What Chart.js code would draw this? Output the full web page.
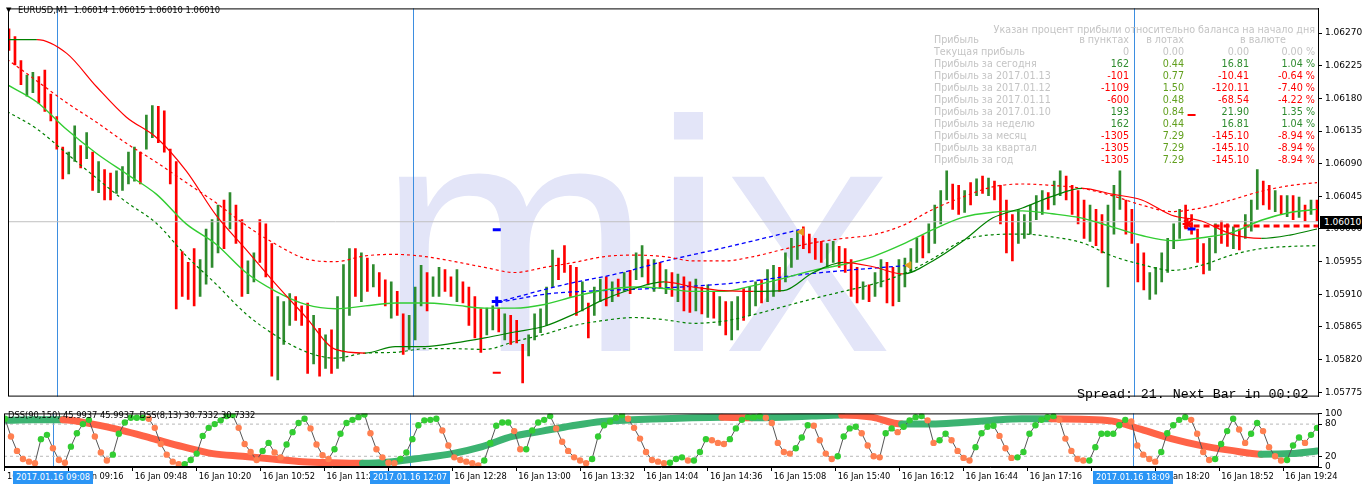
<!DOCTYPE html>
<html lang="ru">
<head>
<meta charset="UTF-8">
<title>EURUSD,M1</title>
<script src="https://cdn.jsdelivr.net/npm/chart.js"></script>
<style>
  html, body { margin: 0; padding: 0; background: #fff; }
  body { width: 1362px; height: 489px; position: relative; overflow: hidden; font-family: 'DejaVu Sans', sans-serif; }
  .watermark { position: absolute; left: 377px; top: 72px; font: 330px/1 'Liberation Sans', Arial, sans-serif; color: #e3e5f8; z-index: 0; white-space: nowrap; }
  #main { position: absolute; left: 0; top: 0; width: 1362px; height: 405px; z-index: 1; }
  #sub { position: absolute; left: 0; top: 405px; width: 1362px; height: 84px; z-index: 1; }
  .ovl { position: absolute; z-index: 2; white-space: nowrap; line-height: 12px; }
  .tri { left: 6px; top: 4px; font-size: 7px; }
  .hdr { left: 18px; top: 4px; font-size: 8.4px; color: #000; }
  .t { font-size: 9.6px; }
  .spread { left: 1077px; top: 388px; font: 13.3px/14px 'Liberation Mono', monospace; color: #000; }
  .dsslbl { left: 8px; top: 409px; font-size: 8.3px; color: #000; }
  .pricebox { left: 1320px; top: 216px; width: 42px; height: 13px; background: #000; color: #fff; font-size: 9px; line-height: 13px; padding-left: 4px; box-sizing: border-box; }
  .tbox { top: 471px; height: 13px; width: 80px; background: #2b95f5; color: #fff; font-size: 8.3px; line-height: 13px; text-align: center; }
</style>
</head>
<body>

<div class="watermark">mix</div>
<div id="main"><canvas id="mainChart"></canvas></div>
<div id="sub"><canvas id="subChart"></canvas></div>

<div class="ovl tri">▼</div>
<div class="ovl hdr">EURUSD,M1&nbsp;&nbsp;1.06014 1.06015 1.06010 1.06010</div>
<div class="ovl spread">Spread: 21. Next Bar in 00:02</div>
<div class="ovl dsslbl">DSS(90,150) 45.9937 45.9937&nbsp;&nbsp;DSS(8,13) 30.7332 30.7332</div>
<div class="ovl pricebox">1.06010</div>

<script>
// ---- price bars, 3 minute steps from 08:44 ----
const firstBar = '08:44';
const barStep = 3;

const highs = [
  1.06276,1.06265,1.06232,1.06212,1.06216,1.06210,1.06219,1.06186,1.06155,1.06113,
  1.06106,1.06142,1.06115,1.06133,1.06106,1.06093,1.06082,1.06077,1.06080,1.06086,
  1.06106,1.06113,1.06106,1.06157,1.06170,1.06169,1.06163,1.06110,1.06093,1.05969,
  1.05954,1.05973,1.05958,1.06000,1.06013,1.06033,1.06040,1.06050,1.06033,1.06013,
  1.05956,1.05967,1.06013,1.06007,1.05980,1.05907,1.05900,1.05911,1.05907,1.05894,
  1.05898,1.05881,1.05863,1.05854,1.05861,1.05907,1.05951,1.05973,1.05973,1.05967,
  1.05960,1.05951,1.05940,1.05930,1.05927,1.05914,1.05883,1.05881,1.05920,1.05950,
  1.05940,1.05934,1.05947,1.05944,1.05934,1.05944,1.05927,1.05920,1.05907,1.05890,
  1.05891,1.05894,1.05891,1.05883,1.05881,1.05874,1.05841,1.05854,1.05883,1.05890,
  1.05920,1.05971,1.05960,1.05977,1.05950,1.05947,1.05927,1.05898,1.05920,1.05931,
  1.05934,1.05927,1.05931,1.05940,1.05943,1.05967,1.05977,1.05958,1.05958,1.05954,
  1.05944,1.05940,1.05938,1.05934,1.05927,1.05931,1.05920,1.05923,1.05914,1.05907,
  1.05900,1.05900,1.05907,1.05918,1.05920,1.05927,1.05930,1.05944,1.05950,1.05947,
  1.05967,1.05987,1.05997,1.06003,1.05993,1.05987,1.05983,1.05980,1.05983,1.05976,
  1.05973,1.05958,1.05947,1.05927,1.05923,1.05940,1.05958,1.05954,1.05947,1.05958,
  1.05960,1.05973,1.05987,1.05991,1.06007,1.06033,1.06053,1.06080,1.06062,1.06060,
  1.06053,1.06064,1.06069,1.06073,1.06070,1.06066,1.06060,1.06040,1.06020,1.06027,
  1.06020,1.06033,1.06046,1.06053,1.06050,1.06066,1.06080,1.06073,1.06060,1.06053,
  1.06040,1.06033,1.06027,1.06020,1.06033,1.06060,1.06080,1.06040,1.06027,1.05980,
  1.05967,1.05940,1.05947,1.05967,1.05987,1.06007,1.06027,1.06033,1.06020,1.06000,
  1.05980,1.05987,1.06007,1.06011,1.06007,1.06003,1.06000,1.06020,1.06040,1.06082,
  1.06066,1.06060,1.06053,1.06046,1.06046,1.06046,1.06044,1.06033,1.06040,1.06040
];
const lows = [
  1.06246,1.06226,1.06199,1.06183,1.06188,1.06173,1.06162,1.06149,1.06110,1.06069,
  1.06076,1.06093,1.06084,1.06097,1.06053,1.06050,1.06040,1.06040,1.06049,1.06053,
  1.06062,1.06066,1.06062,1.06110,1.06126,1.06119,1.06106,1.06062,1.05890,1.05907,
  1.05903,1.05894,1.05907,1.05924,1.05947,1.05967,1.05973,1.06000,1.05980,1.05907,
  1.05911,1.05927,1.05954,1.05934,1.05797,1.05792,1.05841,1.05867,1.05874,1.05867,
  1.05801,1.05814,1.05797,1.05808,1.05801,1.05808,1.05818,1.05881,1.05907,1.05900,
  1.05914,1.05920,1.05907,1.05894,1.05877,1.05881,1.05827,1.05834,1.05847,1.05894,
  1.05887,1.05907,1.05907,1.05914,1.05907,1.05900,1.05898,1.05867,1.05850,1.05830,
  1.05854,1.05861,1.05858,1.05847,1.05841,1.05843,1.05788,1.05825,1.05847,1.05857,
  1.05867,1.05920,1.05930,1.05940,1.05907,1.05881,1.05887,1.05850,1.05881,1.05900,
  1.05894,1.05900,1.05907,1.05914,1.05911,1.05930,1.05934,1.05923,1.05914,1.05918,
  1.05911,1.05907,1.05900,1.05887,1.05885,1.05887,1.05883,1.05878,1.05877,1.05867,
  1.05854,1.05847,1.05861,1.05874,1.05881,1.05894,1.05898,1.05900,1.05907,1.05914,
  1.05927,1.05947,1.05958,1.05973,1.05967,1.05958,1.05954,1.05947,1.05954,1.05947,
  1.05940,1.05907,1.05898,1.05903,1.05900,1.05907,1.05920,1.05898,1.05894,1.05900,
  1.05920,1.05940,1.05954,1.05960,1.05967,1.05980,1.06007,1.06040,1.06027,1.06020,
  1.06023,1.06033,1.06046,1.06049,1.06046,1.06040,1.06007,1.05967,1.05956,1.05980,
  1.05987,1.05993,1.06013,1.06020,1.06027,1.06033,1.06046,1.06040,1.06020,1.06007,
  1.05987,1.05983,1.05977,1.05967,1.05920,1.05993,1.06027,1.05993,1.05980,1.05927,
  1.05916,1.05903,1.05910,1.05927,1.05940,1.05973,1.05987,1.06000,1.05993,1.05954,
  1.05938,1.05943,1.05967,1.05980,1.05976,1.05973,1.05971,1.05987,1.05997,1.06027,
  1.06033,1.06027,1.06024,1.06020,1.06017,1.06013,1.06016,1.06011,1.06020,1.06011
];
// 1 = bullish bar, 0 = bearish bar
const barUp = [
  0,0,0,1,1,0,0,0,0,0, 1,1,0,1,0,1,0,0,1,1, 1,1,0,1,1,0,0,0,0,0, 0,0,1,1,1,1,0,1,0,0,
  1,1,0,0,0,1,1,1,0,0, 0,1,0,1,0,1,1,1,0,1, 0,1,0,0,1,0,0,1,1,1, 0,1,1,0,0,1,0,0,0,0,
  1,1,0,1,0,0,0,1,1,1, 1,1,0,0,0,0,1,0,1,1, 0,1,0,1,0,1,1,0,1,0, 1,0,1,0,0,1,0,1,0,1,
  0,1,1,0,1,1,0,1,1,0, 1,1,1,0,0,0,0,1,1,0, 0,0,0,1,0,1,1,0,0,1, 1,1,1,0,1,1,1,1,0,0,
  1,0,1,0,1,0,0,0,0,1, 1,1,1,1,0,1,1,0,0,0, 0,1,0,0,1,1,1,0,0,0, 0,1,1,1,1,1,1,0,0,0,
  0,1,1,0,0,1,0,1,1,1, 0,0,1,0,1,0,1,0,1,0
];
// fast DSS(8,13), one value per bar
const fastDss = [
  90,57,30,15,10,7,52,60,35,13, 8,38,63,80,88,57,27,12,23,62,
  83,92,92,92,90,73,43,23,10,5, 5,13,25,58,73,80,87,95,97,73,
  43,28,13,30,45,27,18,42,65,82, 90,72,42,22,15,33,62,82,88,93,
  98,63,33,18,8,7,15,27,52,78, 87,88,90,68,40,18,13,10,7,3,
  12,45,77,83,83,67,33,33,68,83, 88,95,72,47,30,18,12,7,15,57,
  78,85,92,97,90,73,53,28,13,10, 7,8,15,18,12,12,28,52,50,45,
  43,52,72,88,93,93,95,92,82,45, 28,25,35,55,78,77,50,25,15,20,
  57,72,75,63,40,20,18,63,72,65, 75,87,93,95,87,45,50,62,50,30,
  17,12,37,63,75,77,58,35,17,18, 28,62,78,88,93,95,88,53,30,15,
  12,12,37,62,62,62,78,88,85,40, 23,15,10,28,63,78,88,93,88,62,
  28,13,15,43,67,90,70,45,62,82, 67,37,20,12,13,40,55,45,60,73
];

// ---- indicator lines, sampled every 15 minutes ----
const lineTimes = ['08:43','08:58','09:13','09:28','09:43','09:58','10:13','10:28','10:43','10:58',
  '11:13','11:28','11:43','11:58','12:13','12:28','12:43','12:58','13:13','13:28',
  '13:43','13:58','14:13','14:28','14:43','14:58','15:13','15:28','15:43','15:58',
  '16:13','16:28','16:43','16:58','17:13','17:28','17:43','17:58','18:13','18:28',
  '18:43','18:58','19:13','19:28','19:41'];
const trendMa = [1.06261,1.06261,1.06242,1.06196,1.06154,1.06126,1.06080,1.06019,1.05972,1.05924,
  1.05879,1.05834,1.05829,1.05838,1.05838,1.05843,1.05850,1.05858,1.05866,1.05883,
  1.05903,1.05918,1.05927,1.05920,1.05915,1.05914,1.05915,1.05940,1.05954,1.05948,
  1.05938,1.05956,1.05983,1.06015,1.06029,1.06045,1.06056,1.06048,1.06040,1.06019,
  1.06011,1.05993,1.05987,1.05992,1.06000];
const fastMa = [1.06199,1.06175,1.06137,1.06104,1.06076,1.06048,1.06007,1.05979,1.05940,1.05914,
  1.05896,1.05890,1.05894,1.05898,1.05898,1.05895,1.05891,1.05891,1.05896,1.05907,
  1.05916,1.05920,1.05918,1.05914,1.05914,1.05922,1.05932,1.05943,1.05951,1.05962,
  1.05979,1.05999,1.06016,1.06023,1.06025,1.06021,1.06015,1.06003,1.05991,1.05984,
  1.05988,1.05995,1.06012,1.06023,1.06027];
const upperBand = [1.06234,1.06204,1.06174,1.06147,1.06118,1.06092,1.06064,1.06036,1.06005,1.05979,
  1.05959,1.05955,1.05963,1.05965,1.05962,1.05955,1.05947,1.05940,1.05947,1.05954,
  1.05962,1.05964,1.05962,1.05956,1.05956,1.05962,1.05972,1.05981,1.05987,1.05992,
  1.06005,1.06027,1.06044,1.06058,1.06062,1.06060,1.06056,1.06046,1.06033,1.06024,
  1.06029,1.06040,1.06052,1.06060,1.06064];
const lowerBand = [1.06162,1.06138,1.06104,1.06070,1.06037,1.06008,1.05963,1.05924,1.05883,1.05853,
  1.05831,1.05822,1.05829,1.05830,1.05835,1.05835,1.05834,1.05845,1.05855,1.05867,
  1.05874,1.05878,1.05875,1.05870,1.05873,1.05882,1.05893,1.05904,1.05914,1.05924,
  1.05938,1.05959,1.05984,1.05992,1.05993,1.05989,1.05981,1.05963,1.05951,1.05943,
  1.05950,1.05964,1.05973,1.05976,1.05977];
const slowDss = [87,88,88,80,68,53,38,25,20,15, 10,8,7,10,17,25,38,57,67,77,
  85,88,90,92,93,92,93,95,97,93, 80,80,83,87,90,90,89,86,70,53,
  40,31,24,25,30];

// ---- drawn objects ----
const chanUpTimes = ['12:49','13:24','13:49','14:14','14:46','15:21'];
const chanUpPrices = [1.05899,1.05924,1.05938,1.05956,1.05976,1.05999];
const chanLowTimes = ['12:50','13:16','13:41','14:15','14:50','15:25','16:16'];
const chanLowPrices = [1.05899,1.05911,1.05915,1.05919,1.05926,1.05938,1.05950];
const bidPrice = 1.06010;
const stopPrice = 1.06004, stopFrom = '18:39';
const sepTimes = ['09:08','12:07','18:09'];
const arrowTimes = ['12:49'], arrowPrices = [1.05900];
const dashTimes = ['12:49','18:38'], dashPrices = [1.05999, 1.06000];
const redDashTimes = ['12:49','18:38'], redDashPrices = [1.05802, 1.06157];
const triTimes = ['15:22','16:16'], triPrices = [1.05996, 1.05950];
const starTimes = ['18:36'], starPrices = [1.06007];

// ---- axes ----
const priceTicks = [1.05775,1.05820,1.05865,1.05910,1.05955,1.06000,1.06045,1.06090,1.06135,1.06180,1.06225,1.06270];
const timeTicks = ['08:44','09:16','09:48','10:20','10:52','11:24','11:56','12:28','13:00','13:32','14:04',
  '14:36','15:08','15:40','16:12','16:44','17:16','17:48','18:20','18:52','19:24'];
const dssTicks = [0, 20, 80, 100];
const dssLevels = [20, 80];

// ---- profit table ----
const tableTitle = 'Указан процент прибыли относительно баланса на начало дня';
const colHeads = ['Прибыль', 'в пунктах', 'в лотах', 'в валюте'];
const rowLabels = ['Текущая прибыль','Прибыль за сегодня','Прибыль за 2017.01.13','Прибыль за 2017.01.12',
  'Прибыль за 2017.01.11','Прибыль за 2017.01.10','Прибыль за неделю','Прибыль за месяц','Прибыль за квартал','Прибыль за год'];
const profitPoints = ['0','162','-101','-1109','-600','193','162','-1305','-1305','-1305'];
const profitLots = ['0.00','0.44','0.77','1.50','0.48','0.84','0.44','7.29','7.29','7.29'];
const profitMoney = ['0.00','16.81','-10.41','-120.11','-68.54','21.90','16.81','-145.10','-145.10','-145.10'];
const profitPct = ['0.00 %','1.04 %','-0.64 %','-7.40 %','-4.22 %','1.35 %','1.04 %','-8.94 %','-8.94 %','-8.94 %'];

// ------------------------------------------------------------------
const toMin = s => { const [h, m] = s.split(':').map(Number); return h * 60 + m; };
const pad = n => String(n).padStart(2, '0');
const fmtTime = v => `16 Jan ${pad(Math.floor(v / 60))}:${pad(v % 60)}`;
const pts = (xs, ys) => ys.map((y, i) => ({ x: typeof xs[i] === 'string' ? toMin(xs[i]) : xs[i], y }));

const X_MIN = 523.5, X_MAX = 1181.5;
const RED = '#ff0000', DKGREEN = '#008000', LIME = '#32cd32', BLUE = '#0000ff';

const barTimes = highs.map((_, i) => toMin(firstBar) + i * barStep);

Chart.defaults.font.family = "'DejaVu Sans', sans-serif";
Chart.defaults.animation = false;

const frame = {
  id: 'frame',
  afterDraw(chart) {
    const { ctx, chartArea: a } = chart;
    ctx.save();
    ctx.strokeStyle = '#000';
    ctx.lineWidth = 1;
    ctx.strokeRect(a.left + 0.5, a.top + 0.5, a.right - a.left, a.bottom - a.top - 1);
    ctx.restore();
  }
};
const separators = {
  id: 'separators',
  beforeDatasetsDraw(chart) {
    const { ctx, chartArea: a, scales } = chart;
    ctx.save();
    ctx.strokeStyle = '#3d8ee0';
    ctx.lineWidth = 1;
    sepTimes.forEach(t => {
      const px = Math.round(scales.x.getPixelForValue(toMin(t))) + 0.5;
      ctx.beginPath();
      ctx.moveTo(px, a.top);
      ctx.lineTo(px, a.bottom);
      ctx.stroke();
    });
    ctx.restore();
  }
};

const thinLine = (data, color, extra) => Object.assign({
  type: 'line', data, borderColor: color, borderWidth: 1.2, pointRadius: 0,
  cubicInterpolationMode: 'monotone', order: 5
}, extra);
const marker = (data, style, color, extra) => Object.assign({
  type: 'scatter', data, pointStyle: style, borderColor: color, backgroundColor: color,
  pointRadius: 4, borderWidth: 2, order: 1
}, extra);

new Chart(document.getElementById('mainChart'), {
  type: 'line',
  data: {
    datasets: [
      {
        type: 'bar',
        data: barTimes.map((t, i) => ({ x: t, y: [lows[i], highs[i]] })),
        backgroundColor: barUp.map(u => u ? '#2e8b2e' : RED),
        barThickness: 2,
        borderWidth: 0,
        order: 10
      },
      thinLine(pts(lineTimes, trendMa), DKGREEN, {
        segment: { borderColor: c => c.p1.parsed.y < c.p0.parsed.y ? RED : DKGREEN }
      }),
      thinLine(pts(lineTimes, fastMa), LIME, { borderWidth: 1.4 }),
      thinLine(pts(lineTimes, upperBand), RED, { borderDash: [3, 3] }),
      thinLine(pts(lineTimes, lowerBand), DKGREEN, { borderDash: [3, 3] }),
      thinLine(pts(chanUpTimes, chanUpPrices), BLUE, { borderDash: [4, 3], borderWidth: 1.3 }),
      thinLine(pts(chanLowTimes, chanLowPrices), BLUE, { borderDash: [4, 3], borderWidth: 1.3 }),
      thinLine([{ x: X_MIN, y: bidPrice }, { x: X_MAX, y: bidPrice }], '#c0c0c0', { borderWidth: 1, order: 9 }),
      thinLine([{ x: toMin(stopFrom), y: stopPrice }, { x: X_MAX, y: stopPrice }], RED, { borderWidth: 3, borderDash: [6, 4] }),
      marker(pts(arrowTimes, arrowPrices), 'cross', BLUE, { borderWidth: 3, pointRadius: 5 }),
      marker(pts(dashTimes, dashPrices), 'line', BLUE, { borderWidth: 3 }),
      marker(pts(redDashTimes, redDashPrices), 'line', RED, { borderWidth: 2 }),
      marker(pts(triTimes, triPrices), 'triangle', '#e8a020', { rotation: -90, pointRadius: 4, borderWidth: 1 }),
      marker(pts(starTimes, starPrices), 'star', RED, { pointRadius: 5, borderWidth: 2 })
    ]
  },
  options: {
    responsive: true,
    maintainAspectRatio: false,
    events: [],
    layout: { padding: { left: 2, top: 1, bottom: 1, right: 0 } },
    plugins: { legend: { display: false }, tooltip: { enabled: false } },
    scales: {
      x: { type: 'linear', min: X_MIN, max: X_MAX, display: false, offset: false },
      y: {
        position: 'right',
        min: 1.05769,
        max: 1.06304,
        afterBuildTicks: s => { s.ticks = priceTicks.map(v => ({ value: v })); },
        afterFit: s => { s.width = 44; },
        ticks: { callback: v => v.toFixed(5), color: '#000', font: { size: 9 }, padding: 3 },
        grid: { drawOnChartArea: false, tickLength: 4, color: '#000' },
        border: { color: '#000' }
      }
    }
  },
  plugins: [separators, frame]
});

const subChart = new Chart(document.getElementById('subChart'), {
  type: 'line',
  data: {
    datasets: [
      ...dssLevels.map(v => thinLine([{ x: X_MIN, y: v }, { x: X_MAX, y: v }], '#b8b8b8',
        { borderWidth: 1, borderDash: [3, 3], order: 10 })),
      thinLine(pts(lineTimes, slowDss), '#3cb371', {
        borderWidth: 7,
        borderCapStyle: 'round',
        segment: { borderColor: c => c.p1.parsed.y < c.p0.parsed.y ? '#ff6347' : '#3cb371' }
      }),
      {
        type: 'line',
        data: pts(barTimes, fastDss),
        borderColor: '#555',
        borderWidth: 1,
        pointRadius: 3.2,
        pointBorderWidth: 0,
        pointBackgroundColor: c => (c.dataIndex > 0 && fastDss[c.dataIndex] < fastDss[c.dataIndex - 1]) ? '#ff7f50' : LIME,
        order: 1
      }
    ]
  },
  options: {
    responsive: true,
    maintainAspectRatio: false,
    events: [],
    layout: { padding: { left: 2, top: 2, bottom: 0, right: 0 } },
    plugins: { legend: { display: false }, tooltip: { enabled: false } },
    scales: {
      x: {
        type: 'linear', min: X_MIN, max: X_MAX, offset: false,
        afterBuildTicks: s => { s.ticks = timeTicks.map(t => ({ value: toMin(t) })); },
        afterFit: s => { s.height = 22; },
        ticks: { callback: v => fmtTime(v), align: 'start', labelOffset: 2, maxRotation: 0, autoSkip: false,
                 color: '#000', font: { size: 8.3 }, padding: 1 },
        grid: { drawOnChartArea: false, tickLength: 4, color: '#000' },
        border: { color: '#000' }
      },
      y: {
        position: 'right',
        min: 0,
        max: 100,
        afterBuildTicks: s => { s.ticks = dssTicks.map(v => ({ value: v })); },
        afterFit: s => { s.width = 44; },
        ticks: { color: '#000', font: { size: 9 }, padding: 3 },
        grid: { drawOnChartArea: false, tickLength: 4, color: '#000' },
        border: { color: '#000' }
      }
    }
  },
  plugins: [separators, frame]
});

// ---- text overlays ----
const GRAY = '#c4c4c4', GREEN = '#2e8b2e', LOTS = '#62a01e';
function addText(txt, x, yc, color, right) {
  const s = document.createElement('span');
  s.className = 'ovl t';
  s.textContent = txt;
  s.style.top = (yc - 6) + 'px';
  s.style.color = color;
  if (right) s.style.right = (1362 - x) + 'px'; else s.style.left = x + 'px';
  document.body.appendChild(s);
}
addText(tableTitle, 1315, 30, GRAY, true);
addText(colHeads[0], 934, 40, GRAY, false);
addText(colHeads[1], 1129, 40, GRAY, true);
addText(colHeads[2], 1184, 40, GRAY, true);
addText(colHeads[3], 1286, 40, GRAY, true);
const signColor = (v, r) => r === 0 ? GRAY : (v.startsWith('-') ? RED : GREEN);
rowLabels.forEach((lbl, r) => {
  const y = 52 + 12 * r;
  addText(lbl, 934, y, GRAY, false);
  addText(profitPoints[r], 1129, y, signColor(profitPoints[r], r), true);
  addText(profitLots[r], 1184, y, r === 0 ? GRAY : LOTS, true);
  addText(profitMoney[r], 1249, y, signColor(profitMoney[r], r), true);
  addText(profitPct[r], 1315, y, signColor(profitPct[r], r), true);
});

// date boxes under the period separators
sepTimes.forEach(t => {
  const b = document.createElement('div');
  b.className = 'ovl tbox';
  b.textContent = `2017.01.16 ${t}`;
  b.style.left = Math.round(subChart.scales.x.getPixelForValue(toMin(t)) - 40) + 'px';
  document.body.appendChild(b);
});
</script>
</body>
</html>
